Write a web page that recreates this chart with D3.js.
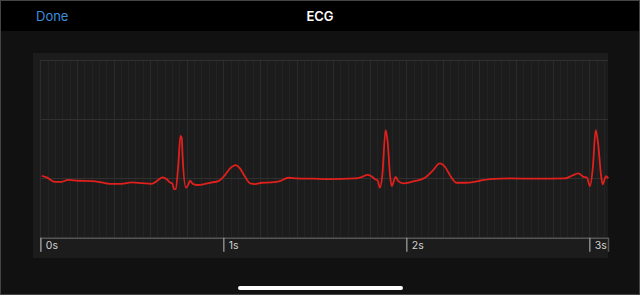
<!DOCTYPE html>
<html>
<head>
<meta charset="utf-8">
<script src="https://cdn.jsdelivr.net/npm/d3@7"></script>
<style>
  html, body { margin: 0; padding: 0; background: #111; }
  body { width: 640px; height: 295px; overflow: hidden; font-family: "Inter", "Roboto", sans-serif; }
  svg { display: block; }
</style>
</head>
<body>
<div class="content"></div>
<script>
// DATA
var times = [0.008, 0.035, 0.080, 0.117, 0.153, 0.208, 0.281, 0.336, 0.381, 0.445, 0.499, 0.554, 0.609, 0.636, 0.669,
  0.691, 0.709, 0.721, 0.732, 0.740, 0.754, 0.766, 0.773, 0.778, 0.796, 0.809, 0.818, 0.833, 0.855, 0.891,
  0.927, 0.973, 1.009, 1.037, 1.068, 1.091, 1.119, 1.147, 1.174, 1.210, 1.264, 1.310, 1.355, 1.401, 1.492,
  1.579, 1.720, 1.756, 1.789, 1.814, 1.829, 1.842, 1.856, 1.869, 1.887, 1.898, 1.911, 1.920, 1.942, 1.956,
  1.984, 2.029, 2.102, 2.139, 2.184, 2.211, 2.244, 2.275, 2.321, 2.372, 2.403, 2.458, 2.567, 2.713, 2.868,
  2.904, 2.940, 2.968, 2.986, 3.004, 3.019, 3.035, 3.049, 3.064, 3.073, 3.091, 3.104];
var volts = [0.022, 0.008, -0.029, -0.029, -0.012, -0.020, -0.023, -0.034, -0.046, -0.046, -0.034, -0.040, -0.046, -0.023, 0.008,
  -0.008, -0.034, -0.042, -0.093, -0.090, 0.112, 0.357, 0.340, 0.171, -0.079, -0.051, -0.020, -0.046, -0.056, -0.051,
  -0.037, -0.023, 0.028, 0.084, 0.112, 0.084, 0.013, -0.042, -0.048, -0.037, -0.034, -0.023, 0.005, 0.000, -0.003,
  -0.006, 0.000, 0.011, 0.030, 0.013, -0.008, -0.014, -0.079, 0.028, 0.407, 0.309, 0.028, -0.065, 0.013, -0.023,
  -0.042, -0.029, 0.005, 0.056, 0.126, 0.098, 0.013, -0.037, -0.037, -0.029, -0.020, -0.006, 0.000, -0.003, 0.000,
  0.022, 0.042, 0.013, 0.008, -0.065, 0.084, 0.407, 0.281, 0.028, -0.051, 0.019, 0.000];
var secondTicks = [0, 1, 2, 3];
var voltLines = [-0.5, 0, 0.5, 1.0];

// VARIABLES
var w = 640, h = 295;
var plot = { left: 40.3, right: 608, top: 59.7, bottom: 237.7 };

var svg = d3.select('.content').append('svg')
  .attr('width', w)
  .attr('height', h);

// background + header
svg.append('rect').attr('width', w).attr('height', h).attr('fill', '#111');
svg.append('rect').attr('width', w).attr('height', 31).attr('fill', '#000');
svg.append('text').attr('x', 36).attr('y', 20.5)
  .attr('fill', '#3c8fdc').attr('font-size', 13).text('Done');
svg.append('text').attr('x', 320).attr('y', 20.5).attr('text-anchor', 'middle')
  .attr('fill', '#fff').attr('font-size', 13).attr('font-weight', 600).text('ECG');

// panel
svg.append('rect').attr('x', 33).attr('y', 53).attr('width', 575).attr('height', 205).attr('fill', '#1c1c1c');

// SCALES
var x = d3.scaleLinear().domain([0, (plot.right - plot.left) / 183]).range([plot.left, plot.right]);
var y = d3.scaleLinear().domain([-0.5, 1.0]).range([plot.bottom, plot.top]);

// GRID
var minor = d3.range(0, x.domain()[1] + 0.001, 0.04);
svg.append('g').selectAll('line')
  .data(minor)
  .enter().append('line')
  .attr('x1', function(d) { return Math.round(x(d)) + 0.5; })
  .attr('x2', function(d) { return Math.round(x(d)) + 0.5; })
  .attr('y1', plot.top).attr('y2', plot.bottom)
  .attr('stroke', function(d, i) { return i % 5 === 0 ? '#2b2b2b' : '#232323'; })
  .attr('stroke-width', 1);

svg.append('g').selectAll('line')
  .data(voltLines)
  .enter().append('line')
  .attr('x1', plot.left).attr('x2', plot.right)
  .attr('y1', function(d) { return Math.round(y(d)) + 0.5; })
  .attr('y2', function(d) { return Math.round(y(d)) + 0.5; })
  .attr('stroke', '#303030');

// AXIS
var axis = svg.append('g')
  .attr('transform', 'translate(0,' + plot.bottom + ')')
  .call(d3.axisBottom(x).tickValues(secondTicks).tickSize(14).tickFormat(function(d) { return d + 's'; }));
axis.select('.domain').attr('stroke', '#555').attr('stroke-width', 1.5);
axis.selectAll('.tick line').attr('stroke', '#8a8a8a').attr('stroke-width', 1.5);
axis.selectAll('.tick text')
  .attr('fill', '#d0d0d0').attr('font-size', 10.5).attr('font-family', 'Inter, Roboto, sans-serif')
  .attr('text-anchor', 'start').attr('x', 5).attr('y', 3.5).attr('dy', '0.71em');

// TRACE
var points = times.map(function(t, i) { return [t, volts[i]]; });
var line = d3.line()
  .x(function(d) { return x(d[0]); })
  .y(function(d) { return y(d[1]); })
  .curve(d3.curveMonotoneX);

svg.append('path')
  .datum(points)
  .attr('d', line)
  .attr('fill', 'none')
  .attr('stroke', '#e0201d')
  .attr('stroke-width', 1.8)
  .attr('stroke-linejoin', 'round');

// home indicator
svg.append('rect').attr('x', 238).attr('y', 286).attr('width', 165).attr('height', 4)
  .attr('rx', 2).attr('fill', '#fff');

// frame
svg.append('rect').attr('x', 0.5).attr('y', 0.5).attr('width', w - 1).attr('height', h - 1)
  .attr('fill', 'none').attr('stroke', '#444');
</script>
</body>
</html>
